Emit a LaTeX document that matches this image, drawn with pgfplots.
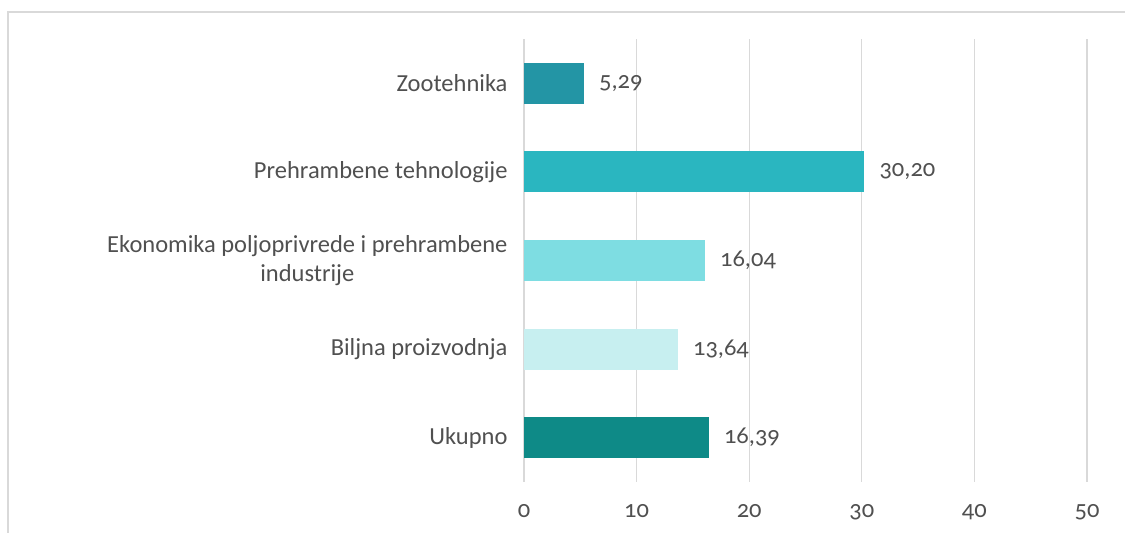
\documentclass[border=0pt]{standalone}
\usepackage{fontspec}
\setmainfont{Carlito}[Numbers=OldStyle]
\usepackage{pgfplots}
\pgfplotsset{compat=1.18}
\definecolor{cZoo}{RGB}{35,149,165}
\definecolor{cPre}{RGB}{42,182,192}
\definecolor{cEko}{RGB}{126,221,226}
\definecolor{cBil}{RGB}{199,239,240}
\definecolor{cUku}{RGB}{14,138,135}
\definecolor{txt}{RGB}{80,80,80}
\definecolor{grd}{RGB}{217,217,217}
\begin{document}
\begin{tikzpicture}
\path[use as bounding box] (0,0) rectangle (1125bp,533bp);
\draw[grd, line width=1.5bp] (8bp,0) -- (8bp,521bp) -- (1125bp,521bp);
\begin{axis}[
  at={(524bp,51bp)}, anchor=south west,
  scale only axis, width=563bp, height=443bp,
  xbar, bar width=41bp, bar shift=0pt,
  xmin=0, xmax=50, ymin=-0.5, ymax=4.5,
  y dir=reverse,
  xtick={0,10,20,30,40,50},
  ytick={0,1,2,3,4},
  yticklabels={Zootehnika,Prehrambene tehnologije,{Ekonomika poljoprivrede i prehrambene\\industrije},Biljna proizvodnja,Ukupno},
  yticklabel style={align=center, font=\fontsize{24.5bp}{29bp}\selectfont, text=txt, xshift=-13bp},
  xticklabel style={font=\fontsize{24.5bp}{29bp}\selectfont, text=txt, yshift=-19bp},
  /pgf/number format/assume math mode=true,
  xmajorgrids, major grid style={grd, line width=1.3bp},
  axis line style={draw=none},
  major tick length=0pt,
  axis x line*=bottom, axis y line*=left,
  nodes near coords,
  nodes near coords style={font=\fontsize{24.5bp}{29bp}\selectfont, text=txt, anchor=west, xshift=12bp,
    /pgf/number format/.cd, fixed, fixed zerofill, precision=2, use comma, assume math mode=true},
  clip=false,
]
\draw[grd, line width=1.3bp] (axis cs:0,-0.5) -- (axis cs:0,4.5);
\addplot[fill=cZoo, draw=none] coordinates {(5.29,0)};
\addplot[fill=cPre, draw=none] coordinates {(30.20,1)};
\addplot[fill=cEko, draw=none] coordinates {(16.04,2)};
\addplot[fill=cBil, draw=none] coordinates {(13.64,3)};
\addplot[fill=cUku, draw=none] coordinates {(16.39,4)};
\end{axis}
\end{tikzpicture}
\end{document}
